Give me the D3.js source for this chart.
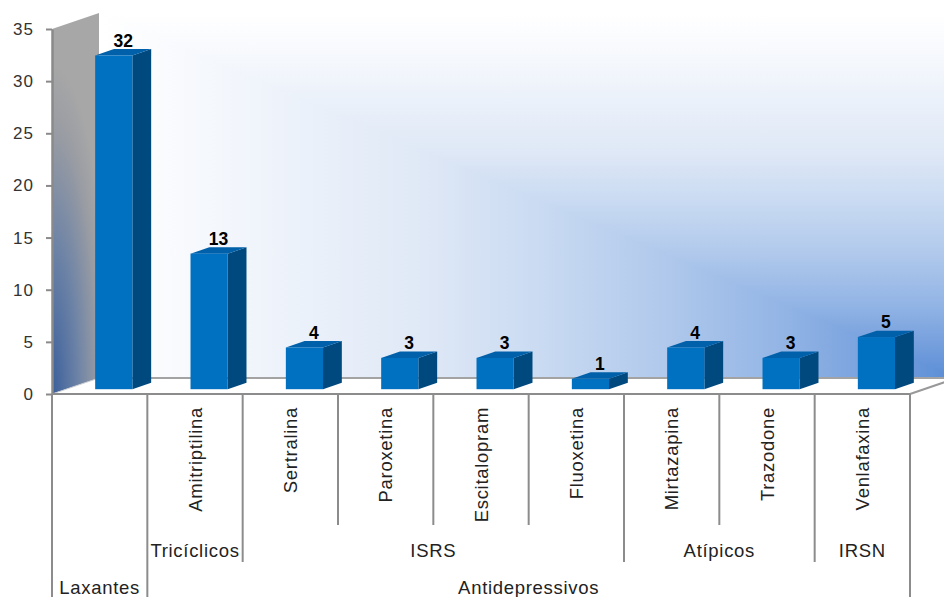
<!DOCTYPE html>
<html>
<head>
<meta charset="utf-8">
<script src="https://cdn.jsdelivr.net/npm/d3@7"></script>
<style>
  html, body { margin: 0; padding: 0; background: #ffffff; }
  svg { display: block; }
  text { font-family: "Liberation Sans", Arial, sans-serif; }
</style>
</head>
<body>
<svg id="chart" width="944" height="597"></svg>
<script>
// Medication counts, three-level category axis (drug / class / group)
const drugs   = ["", "Amitriptilina", "Sertralina", "Paroxetina", "Escitalopram", "Fluoxetina", "Mirtazapina", "Trazodone", "Venlafaxina"];
const classes = ["", "Tricíclicos", "ISRS", "ISRS", "ISRS", "ISRS", "Atípicos", "Atípicos", "IRSN"];
const groups  = ["Laxantes", "Antidepressivos", "Antidepressivos", "Antidepressivos", "Antidepressivos", "Antidepressivos", "Antidepressivos", "Antidepressivos", "Antidepressivos"];
const values  = [32, 13, 4, 3, 3, 1, 4, 3, 5];
const yTicks  = [0, 5, 10, 15, 20, 25, 30, 35];

const svg = d3.select("#chart");
const defs = svg.append("defs");

// plot frame (front plane) and the depth vector of the 3D box
const X0 = 52, X1 = 910, Y0 = 394, YT = 29;
const DX = 47, DY = -16;

const x = d3.scaleBand().domain(d3.range(values.length)).range([X0, X1]).padding(0);
const y = d3.scaleLinear().domain([0, 35]).range([Y0, YT]);

const line = d3.line();

// ---- back wall: rectangular "path" gradient running from the lower-right corner
const wallL = X0 + DX, wallR = X1 + DX, wallT = YT + DY, wallB = Y0 + DY;
const wallStops = [
  [0.00, "#ffffff"], [0.06, "#fbfcfe"], [0.24, "#ebf1fa"], [0.38, "#dfe8f6"],
  [0.51, "#cadbf2"], [0.65, "#b2caec"], [0.80, "#92b4e5"], [0.92, "#729ddc"], [1.00, "#5a8dd6"]
];
function linGrad(id, x1, y1, x2, y2, stops) {
  const g = defs.append("linearGradient").attr("id", id)
    .attr("gradientUnits", "userSpaceOnUse")
    .attr("x1", x1).attr("y1", y1).attr("x2", x2).attr("y2", y2);
  stops.forEach(([o, c]) => g.append("stop").attr("offset", o).attr("stop-color", c));
}
linGrad("wallV", 0, wallT, 0, wallB, wallStops);
linGrad("wallH", wallL, 0, wallR, 0, wallStops);

// whole wall with the horizontal ramp, upper-right triangle with the vertical ramp
svg.append("rect")
  .attr("x", wallL).attr("y", wallT).attr("width", wallR - wallL).attr("height", wallB - wallT)
  .attr("fill", "url(#wallH)");
svg.append("path")
  .attr("d", line([[wallL, wallT], [wallR, wallT], [wallR, wallB]]) + "Z")
  .attr("fill", "url(#wallV)");

// ---- side wall (grey, bluish toward the front-bottom corner)
const side = defs.append("radialGradient").attr("id", "sideWall")
  .attr("gradientUnits", "userSpaceOnUse")
  .attr("cx", 0).attr("cy", 0).attr("r", 1)
  .attr("gradientTransform", `translate(${X0},${Y0}) scale(58,330)`);
[[0, "#3a5f9c"], [0.45, "#6d83a6"], [0.8, "#999ca3"], [1, "#a7a7a7"]]
  .forEach(([o, c]) => side.append("stop").attr("offset", o).attr("stop-color", c));

svg.append("path")
  .attr("d", line([[X0, YT], [X0 + DX, YT + DY], [X0 + DX, Y0 + DY], [X0, Y0]]) + "Z")
  .attr("fill", "url(#sideWall)");

// ---- floor
svg.append("path")
  .attr("d", line([[X0, Y0], [X1, Y0], [X1 + DX, Y0 + DY], [X0 + DX, Y0 + DY]]) + "Z")
  .attr("fill", "#ffffff");
svg.append("path")
  .attr("d", line([[X0 + DX, Y0 + DY], [X1 + DX, Y0 + DY]]))
  .attr("stroke", "#a3a3a3").attr("stroke-width", 2).attr("fill", "none");
svg.append("path")
  .attr("d", line([[X1, Y0], [X1 + DX, Y0 + DY]]))
  .attr("stroke", "#999999").attr("stroke-width", 2).attr("fill", "none");
svg.append("path")
  .attr("d", line([[X0, Y0], [X0 + DX, Y0 + DY]]))
  .attr("stroke", "#c9ccd2").attr("stroke-width", 1).attr("fill", "none");

// ---- bars (front face, side face, top face)
const bw = x.bandwidth() * 0.39;
const fx = DX * 0.30, fy = DY * 0.30;     // bar front set back into the floor
const bdx = DX * 0.40, bdy = DY * 0.40;   // bar depth

const bars = svg.append("g").selectAll("g").data(values).join("g");
bars.each(function (v, i) {
  const g = d3.select(this);
  const cx = x(i) + x.bandwidth() / 2 + fx;
  const xl = cx - bw / 2, xr = cx + bw / 2;
  const yt = y(v) + fy, yb = y(0) + fy;
  g.append("path")
    .attr("d", line([[xr, yt], [xr + bdx, yt + bdy], [xr + bdx, yb + bdy], [xr, yb]]) + "Z")
    .attr("fill", "#00497f");
  g.append("path")
    .attr("d", line([[xl, yt], [xl + bdx, yt + bdy], [xr + bdx, yt + bdy], [xr, yt]]) + "Z")
    .attr("fill", "#0060a9");
  g.append("rect")
    .attr("x", xl).attr("y", yt).attr("width", bw).attr("height", yb - yt)
    .attr("fill", "#0070c0");
  g.append("text")
    .attr("x", cx + bdx / 2).attr("y", yt + bdy - 2.5)
    .attr("text-anchor", "middle")
    .attr("font-size", 17.5).attr("font-weight", "bold").attr("fill", "#000")
    .text(v);
});

// ---- value axis
const yAxis = svg.append("g")
  .attr("transform", `translate(${X0},0)`)
  .call(d3.axisLeft(y).tickValues(yTicks).tickSize(6).tickPadding(12).tickSizeOuter(0));
yAxis.select(".domain").attr("stroke", "#8a8a8a").attr("stroke-width", 2.5);
yAxis.selectAll(".tick line").attr("stroke", "#8a8a8a").attr("stroke-width", 2);
yAxis.selectAll(".tick text")
  .attr("font-size", 17).attr("fill", "#333").attr("letter-spacing", 1)
  .attr("font-family", "Liberation Sans, Arial, sans-serif");

// ---- multi-level category axis
const axisG = svg.append("g");
const L1 = 525, L2 = 562, L3 = 597;
axisG.append("line")
  .attr("x1", X0).attr("x2", X1).attr("y1", Y0).attr("y2", Y0)
  .attr("stroke", "#8c8c8c").attr("stroke-width", 2);

const n = values.length;
for (let k = 0; k <= n; k++) {
  let bottom;
  if (k === 0 || k === n || groups[k - 1] !== groups[k]) bottom = L3;
  else if (classes[k - 1] !== classes[k]) bottom = L2;
  else bottom = L1;
  const xx = k === n ? X1 : x(k);
  axisG.append("line")
    .attr("x1", xx).attr("x2", xx).attr("y1", Y0).attr("y2", bottom)
    .attr("stroke", "#8c8c8c").attr("stroke-width", 2);
}

const catFont = { size: 18.5, spacing: 0.7, color: "#222" };

// drug names, rotated
drugs.forEach((d, i) => {
  if (!d) return;
  const cx = x(i) + x.bandwidth() / 2 + 6.5;
  axisG.append("text")
    .attr("transform", `translate(${cx},407) rotate(-90)`)
    .attr("text-anchor", "end")
    .attr("font-size", catFont.size).attr("letter-spacing", catFont.spacing)
    .attr("fill", catFont.color)
    .text(d);
});

// consecutive runs of equal labels -> one centred label per run
function runs(labels) {
  const out = [];
  labels.forEach((lab, i) => {
    const last = out[out.length - 1];
    if (last && last.label === lab) last.end = i;
    else out.push({ label: lab, start: i, end: i });
  });
  return out.filter(r => r.label);
}
runs(classes).forEach(r => {
  const cx = (x(r.start) + x(r.end) + x.bandwidth()) / 2;
  axisG.append("text")
    .attr("x", cx).attr("y", 557).attr("text-anchor", "middle")
    .attr("font-size", catFont.size).attr("letter-spacing", catFont.spacing)
    .attr("fill", catFont.color)
    .text(r.label);
});
runs(groups).forEach(r => {
  const cx = (x(r.start) + x(r.end) + x.bandwidth()) / 2;
  axisG.append("text")
    .attr("x", cx).attr("y", 594).attr("text-anchor", "middle")
    .attr("font-size", catFont.size).attr("letter-spacing", catFont.spacing)
    .attr("fill", catFont.color)
    .text(r.label);
});
</script>
</body>
</html>
